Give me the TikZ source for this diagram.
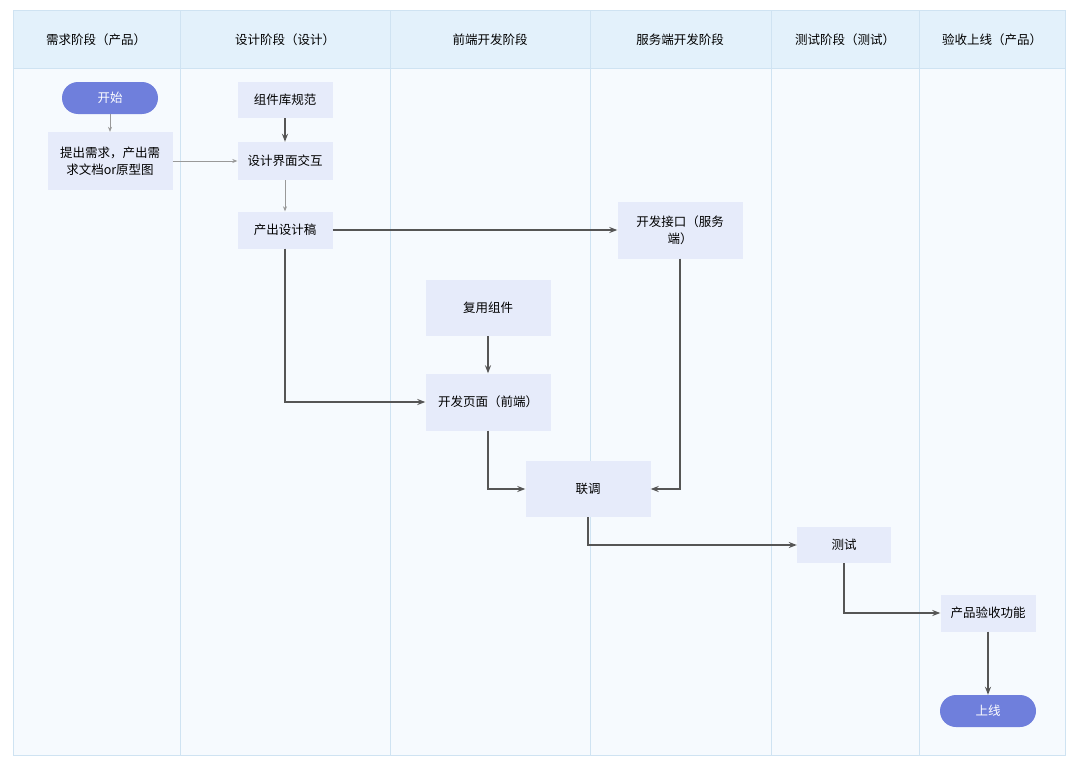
\documentclass[tikz,border=0pt]{standalone}
\usepackage{fontspec}
\setmainfont{Noto Sans CJK SC}
\usetikzlibrary{arrows.meta}
\definecolor{hdr}{HTML}{E3F1FB}
\definecolor{lane}{HTML}{F6FAFE}
\definecolor{grid}{HTML}{CFE3F2}
\definecolor{boxf}{HTML}{E6EBFA}
\definecolor{pill}{HTML}{6F7FDC}
\definecolor{ln}{HTML}{555555}
\begin{document}
\begin{tikzpicture}[x=1pt,y=-1pt,
  every node/.style={font=\fontsize{12.5}{17}\selectfont},
  box/.style={fill=boxf,draw=none,align=center,inner sep=0pt},
  pl/.style={fill=pill,text=white,rounded corners=16pt,minimum width=96pt,minimum height=32pt,inner sep=0pt},
  thin/.style={draw=gray!80,line width=0.6pt,-{Stealth[length=5pt,width=4pt]}},
  dark/.style={draw=ln,line width=1.3pt,-{Stealth[length=8pt,width=6pt]}}]
\useasboundingbox (0,0) rectangle (1080,771);
\fill[white] (0,0) rectangle (1080,771);
\fill[lane] (13,10) rectangle (1065,755);
\fill[hdr] (13,10) rectangle (1065,68);
\draw[grid,line width=0.8pt] (13,10) rectangle (1065,755);
\draw[grid,line width=0.8pt] (13,68) -- (1065,68);
\foreach \x in {180,390,590,771,919} \draw[grid,line width=0.8pt] (\x,10) -- (\x,755);
\node (h1) at (96,40) {需求阶段（产品）};
\node (h2) at (285,40) {设计阶段（设计）};
\node (h3) at (490,40) {前端开发阶段};
\node (h4) at (680,40) {服务端开发阶段};
\node (h5) at (845,40) {测试阶段（测试）};
\node (h6) at (992,40) {验收上线（产品）};

\node[pl] (start) at (110,98) {开始};
\node[box,minimum width=125pt,minimum height=58pt] (req) at (110,161) {提出需求，产出需\\求文档or原型图};
\node[box,minimum width=95pt,minimum height=36pt] (lib) at (285,100) {组件库规范};
\node[box,minimum width=95pt,minimum height=38pt] (ui) at (285,161) {设计界面交互};
\node[box,minimum width=95pt,minimum height=37pt] (draft) at (285,230) {产出设计稿};
\node[box,minimum width=125pt,minimum height=57pt] (api) at (680,230) {开发接口（服务\\端）};
\node[box,minimum width=125pt,minimum height=56pt] (reuse) at (488,308) {复用组件};
\node[box,minimum width=125pt,minimum height=57pt] (page) at (488,402) {开发页面（前端）};
\node[box,minimum width=125pt,minimum height=56pt] (joint) at (588,489) {联调};
\node[box,minimum width=94pt,minimum height=36pt] (test) at (844,545) {测试};
\node[box,minimum width=95pt,minimum height=37pt] (acc) at (988,613) {产品验收功能};
\node[pl] (online) at (988,711) {上线};

\draw[thin] (start) -- (req);
\draw[thin] (req) -- (ui);
\draw[dark] (lib) -- (ui);
\draw[thin] (ui) -- (draft);
\draw[dark] (draft) -- (api);
\draw[dark] (draft.south) |- (page.west);
\draw[dark] (reuse) -- (page);
\draw[dark] (page.south) |- (joint.west);
\draw[dark] (api.south) |- (joint.east);
\draw[dark] (joint.south) |- (test.west);
\draw[dark] (test.south) |- (acc.west);
\draw[dark] (acc) -- (online);
\end{tikzpicture}
\end{document}
